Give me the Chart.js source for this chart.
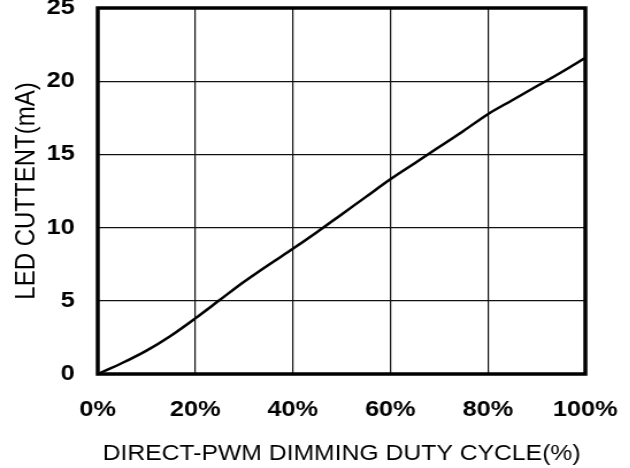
<!DOCTYPE html>
<html>
<head>
<meta charset="utf-8">
<script src="https://cdn.jsdelivr.net/npm/chart.js@4.4.0/dist/chart.umd.min.js"></script>
<style>
  html, body { margin: 0; padding: 0; background: #fff; overflow: hidden; }
  /* the source picture is stretched sideways, so the chart is too */
  #pwmChart { display: block; transform: scaleX(1.15); transform-origin: 0 0; }
</style>
</head>
<body>
<canvas id="pwmChart" width="548" height="468"></canvas>
<script>
const dutyCycle = [0, 5, 10, 15, 20, 25, 30, 35, 40, 45, 50, 55, 60, 65, 70, 75, 80, 85, 90, 95, 100];
const ledCurrent = [0, 0.75, 1.6, 2.62, 3.8, 5.05, 6.3, 7.45, 8.55, 9.7, 10.9, 12.1, 13.3, 14.4, 15.5, 16.6, 17.75, 18.7, 19.65, 20.6, 21.6];
const xTicks = [0, 20, 40, 60, 80, 100];
const yTicks = [0, 5, 10, 15, 20, 25];

const fontFamily = "'Liberation Sans', Arial, sans-serif";

// thick frame round the plot area
const frame = {
  id: 'frame',
  afterDatasetsDraw(chart) {
    const { ctx, chartArea: a } = chart;
    ctx.save();
    ctx.strokeStyle = '#000';
    ctx.lineWidth = 3.5;
    ctx.strokeRect(a.left, a.top, a.right - a.left, a.bottom - a.top);
    ctx.restore();
  }
};

const points = dutyCycle.map((d, i) => ({ x: d, y: ledCurrent[i] }));

new Chart(document.getElementById('pwmChart'), {
  type: 'line',
  data: {
    datasets: [{
      data: points,
      borderColor: '#000',
      borderWidth: 2.5,
      pointRadius: 0,
      fill: false,
      cubicInterpolationMode: 'monotone'
    }]
  },
  options: {
    responsive: false,
    animation: false,
    layout: { padding: { top: 0, right: 39, bottom: 0, left: 0 } },
    plugins: { legend: { display: false }, tooltip: { enabled: false } },
    scales: {
      x: {
        type: 'linear',
        min: xTicks[0],
        max: xTicks[xTicks.length - 1],
        afterBuildTicks: axis => { axis.ticks = xTicks.map(v => ({ value: v })); },
        afterFit: axis => { axis.height = 94; axis.paddingLeft = 0; axis.paddingRight = 0; },
        grid: { color: '#111', lineWidth: 1.2, drawTicks: false },
        border: { display: false },
        ticks: {
          color: '#000',
          padding: 23,
          maxRotation: 0,
          font: { family: fontFamily, size: 22, weight: 'bold' },
          callback: v => v + '%'
        },
        title: {
          display: true,
          text: 'DIRECT-PWM DIMMING DUTY CYCLE(%)',
          color: '#000',
          font: { family: fontFamily, size: 21.5 },
          padding: { top: 18, bottom: 1 }
        }
      },
      y: {
        min: yTicks[0],
        max: yTicks[yTicks.length - 1],
        afterBuildTicks: axis => { axis.ticks = yTicks.map(v => ({ value: v })); },
        afterFit: axis => { axis.width = 85; axis.paddingTop = 8; axis.paddingBottom = 0; },
        grid: { color: '#111', lineWidth: 1.2, drawTicks: false },
        border: { display: false },
        ticks: {
          color: '#000',
          padding: 20,
          font: { family: fontFamily, size: 22, weight: 'bold' }
        },
        title: {
          display: true,
          text: 'LED CUTTENT(mA)',
          color: '#000',
          font: { family: fontFamily, size: 24 },
          padding: { top: 9, bottom: 5 }
        }
      }
    }
  },
  plugins: [frame]
});
</script>
</body>
</html>
